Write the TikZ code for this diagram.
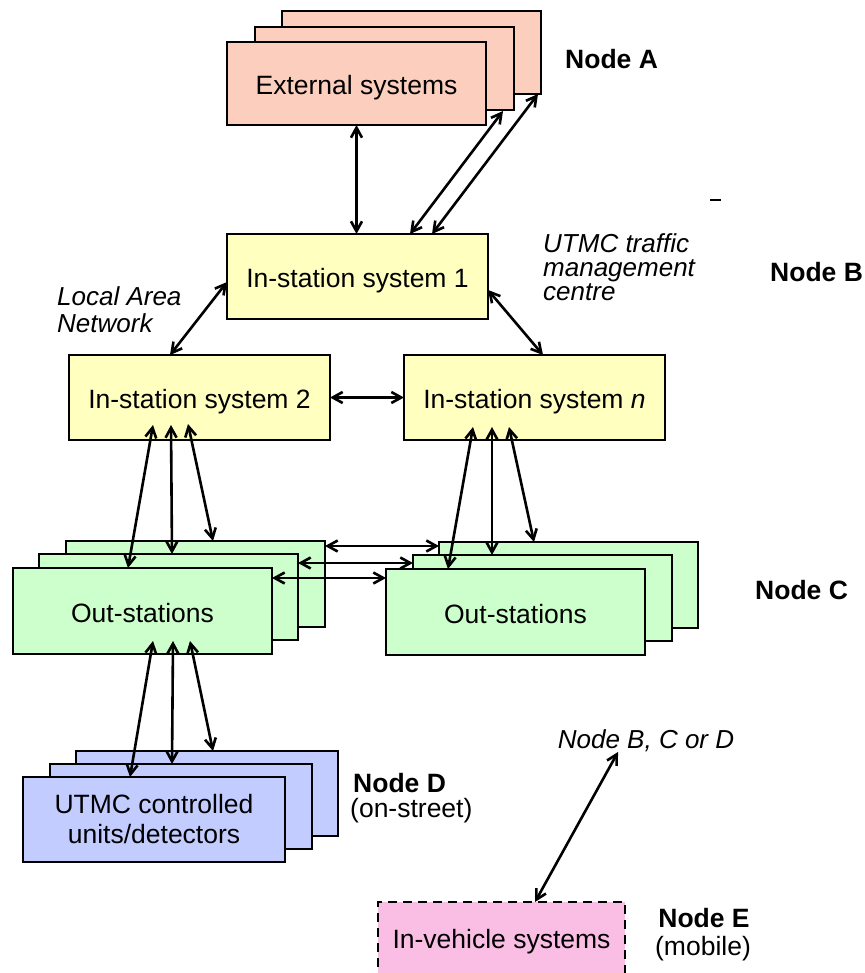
\documentclass[tikz,border=0pt]{standalone}
\usepackage{fontspec}
\setmainfont{Liberation Sans}
\usetikzlibrary{arrows.meta,calc}
\definecolor{extfill}{RGB}{251,206,190}
\definecolor{insfill}{RGB}{255,255,192}
\definecolor{outfill}{RGB}{204,255,204}
\definecolor{unitfill}{RGB}{194,204,255}
\definecolor{vehfill}{RGB}{250,190,228}

\begin{document}
\begin{tikzpicture}[x=1pt,y=-1pt,
  every node/.style={font=\fontsize{26.5}{31}\selectfont},
  sbox/.style={draw, line width=2.8pt, anchor=north west, inner sep=0pt, outer sep=0pt, align=center},
  oneline/.style={text height=22pt, text depth=0pt},
  extbox/.style={sbox, oneline, fill=extfill, minimum width=259pt, minimum height=83pt},
  insbox/.style={sbox, oneline, fill=insfill, minimum width=261pt, minimum height=85pt},
  outbox/.style={sbox, oneline, fill=outfill, minimum width=259pt, minimum height=86pt},
  unitbox/.style={sbox, fill=unitfill, minimum width=262pt, minimum height=85pt},
  vehbox/.style={sbox, fill=vehfill, dash pattern=on 9pt off 6pt, minimum width=247pt, minimum height=80pt},
  link/.style={line width=2.6pt, {Straight Barb[length=10pt,width=11pt]}-{Straight Barb[length=10pt,width=11pt]}},
  tag/.style={font=\fontsize{26.5}{31}\selectfont\bfseries, inner sep=0pt},
  note/.style={font=\fontsize{26}{24}\selectfont\itshape, inner sep=0pt}]

\useasboundingbox (0,0) rectangle (864,973);
\clip (0,0) rectangle (864,973);

% Node A: external systems (stack of three)
\node[extbox] (extB) at (282,11) {};
\node[extbox] (extM) at (255,27) {};
\node[extbox] (extF) at (227,42) {External systems};

% Node B: in-station systems
\node[insbox] (is1) at (227,234) {In-station system 1};
\node[insbox] (is2) at (69,355) {In-station system 2};
\node[insbox] (isn) at (404,355) {In-station system \textit{n}};

% Node C: out-stations (two stacks)
\node[outbox] (osLB) at (66,541) {};
\node[outbox] (osLM) at (39,554) {};
\node[outbox] (osLF) at (13,568) {Out-stations};
\node[outbox] (osRB) at (439,542) {};
\node[outbox] (osRM) at (413,555) {};
\node[outbox] (osRF) at (386,569) {Out-stations};

% Node D: on-street units
\node[unitbox] (dB) at (76,751) {};
\node[unitbox] (dM) at (50,764) {};
\node[unitbox, font=\fontsize{26.5}{30}\selectfont] (dF) at (23,777) {UTMC controlled\\units/detectors};

% Node E: in-vehicle systems
\node[vehbox] (veh) at (378,902) {In-vehicle systems};

% Labels
\node[tag, anchor=base west] (tagA) at (565,69) {Node A};
\node[tag, anchor=base west] (tagB) at (770,281) {Node B};
\node[tag, anchor=base west] (tagC) at (755,599) {Node C};
\node[tag, anchor=base west] (tagD) at (353,792) {Node D};
\node[anchor=base west, inner sep=0pt] (subD) at (350,817) {(on-street)};
\node[tag, anchor=base] (tagE) at (704,927) {Node E};
\node[anchor=base, inner sep=0pt] (subE) at (703,955) {(mobile)};
\node[note, anchor=north west, align=left] (centre) at (543,233) {UTMC traffic\\management\\centre};
\node[note, anchor=north west, align=left, font=\fontsize{26}{27}\selectfont\itshape] (lan) at (57,286) {Local Area\\Network};
\node[note, anchor=base] (bcd) at (646,748) {Node B, C or D};
\draw[line width=2pt] (710,200) -- (721,200);

% Links: external systems <-> in-station 1
\draw[link] (extF.south) -- (extF.south |- is1.north);
\draw[link] ($(is1.north west)+(183,0)$) -- ($(extM.south east)+(-11,1)$);
\draw[link] ($(is1.north west)+(205,0)$) -- ($(extB.south east)+(-3,0)$);

% Local area network
\draw[link] ($(is1.north west)+(0,48)$) -- ($(is2.north west)+(101,0)$);
\draw[link] ($(is1.north east)+(0,56)$) -- ($(isn.north west)+(139,0)$);
\draw[link] (is2.east) -- (isn.west);

% In-station 2 <-> left out-stations
\draw[link] ($(is2.south west)+(84,-15)$) -- ($(osLF.north west)+(115,0)$);
\draw[link] ($(is2.south west)+(102,-15)$) -- ($(osLM.north west)+(133,0)$);
\draw[link] ($(is2.south west)+(119,-16)$) -- ($(osLB.north west)+(147,0)$);

% In-station n <-> right out-stations
\draw[link] ($(isn.south west)+(69,-13)$) -- ($(osRF.north west)+(62,0)$);
\draw[link] ($(isn.south west)+(88,-13)$) -- ($(osRM.north west)+(79,0)$);
\draw[link] ($(isn.south west)+(105,-13)$) -- ($(osRB.north west)+(95,0)$);

% Out-station stacks to each other
\draw[link] ($(osLB.north east)+(0,5)$) -- ($(osRB.north west)+(0,4)$);
\draw[link] ($(osLM.north east)+(0,9)$) -- ($(osRM.north west)+(0,8)$);
\draw[link] ($(osLF.north east)+(0,10)$) -- ($(osRF.north west)+(0,9)$);

% Left out-stations <-> on-street units
\draw[link] ($(osLF.south west)+(140,-13)$) -- ($(dF.north west)+(107,0)$);
\draw[link] ($(osLF.south west)+(160,-13)$) -- ($(dM.north west)+(122,0)$);
\draw[link] ($(osLF.south west)+(177,-13)$) -- ($(dB.north west)+(137,0)$);

% Mobile link
\draw[link] ($(veh.north west)+(157,0)$) -- ($(bcd.base)+(-28,4)$);
\end{tikzpicture}
\end{document}
